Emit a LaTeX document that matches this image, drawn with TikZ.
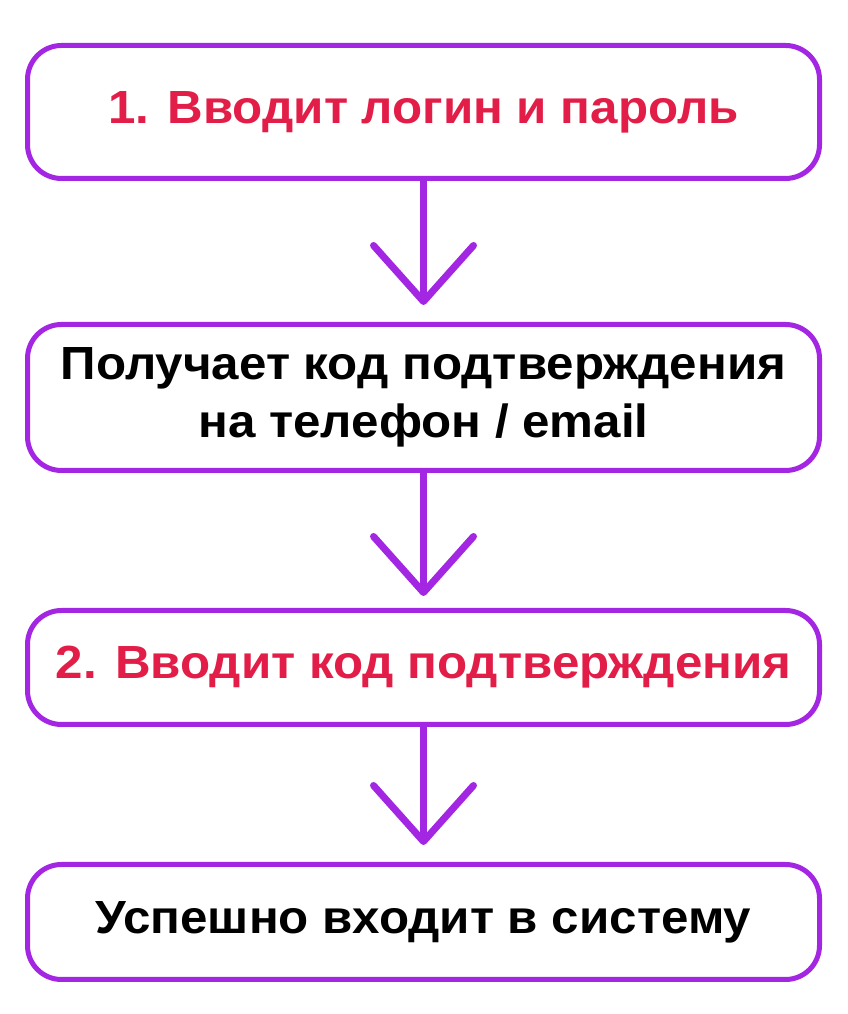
\documentclass[tikz,border=0pt]{standalone}
\usepackage{fontspec}
\setmainfont{Liberation Sans}[FakeStretch=1.06]
\usetikzlibrary{positioning,arrows.meta}

\definecolor{flowpurple}{RGB}{162,38,226}
\definecolor{flowred}{RGB}{226,30,72}

\tikzset{
  stepbox/.style={draw=flowpurple, line width=5pt, rounded corners=34pt,
    fill=white, minimum width=792pt, align=center, inner sep=0pt,
    font=\bfseries\fontsize{46.5}{58}\selectfont},
  flow/.style={draw=flowpurple, line width=7pt,
    -{Straight Barb[length=56pt, width=100pt, round]}}
}

\begin{document}
\begin{tikzpicture}[x=1pt,y=1pt]
  \useasboundingbox (0,0) rectangle (848,1014);

  \node[stepbox, minimum height=133pt, text=flowred] (login) at (423.5,902) {1. Вводит логин и пароль};
  \node[stepbox, minimum height=146pt] (code) at (423.5,616.5) {Получает код подтверждения\\на телефон / email};
  \node[stepbox, minimum height=114pt, text=flowred] (enter) at (423.5,346.5) {2. Вводит код подтверждения};
  \node[stepbox, minimum height=115pt] (done) at (423.5,92) {Успешно входит в систему};

  % tips stop short of the next box
  \coordinate[above=17pt of code.north] (tipa);
  \coordinate[above=12pt of enter.north] (tipb);
  \coordinate[above=17pt of done.north] (tipc);

  \draw[flow] (login) -- (tipa);
  \draw[flow] (code) -- (tipb);
  \draw[flow] (enter) -- (tipc);
\end{tikzpicture}
\end{document}
